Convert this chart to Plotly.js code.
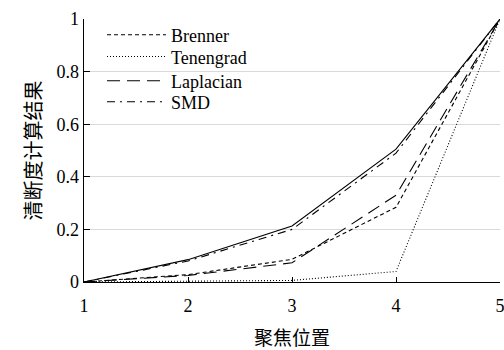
<!DOCTYPE html>
<html>
<head>
<meta charset="utf-8">
<script src="https://cdn.plot.ly/plotly-3.0.1.min.js"></script>
<style>html,body{margin:0;padding:0;background:#fff;}#chart{width:504px;height:350px;}</style>
</head>
<body>
<div id="chart"></div>
<script>
// Data
const positions = [1, 2, 3, 4, 5];
const unlabeled = [0, 0.085, 0.213, 0.505, 1];
const brenner   = [0, 0.028, 0.086, 0.284, 1];
const tenengrad = [0, 0.002, 0.006, 0.040, 1];
const laplacian = [0, 0.025, 0.073, 0.330, 1];
const smd       = [0, 0.080, 0.200, 0.490, 1];
const seriesNames = ['Brenner', 'Tenengrad', 'Laplacian', 'SMD'];
const xTitle = '聚焦位置';
const yTitle = '清断度计算结果';

const fontFamily = 'Liberation Serif, Times New Roman, serif';
const cjkFamily = 'Noto Sans CJK SC, sans-serif';

const traces = [
  {x: positions, y: unlabeled, mode: 'lines', showlegend: false, hoverinfo: 'skip',
   line: {color: '#000', width: 1.1, dash: 'solid'}},
  {x: positions, y: brenner, name: seriesNames[0], mode: 'lines', legend: 'legend',
   line: {color: '#000', width: 1.1, dash: '4px,3px'}},
  {x: positions, y: tenengrad, name: seriesNames[1], mode: 'lines', legend: 'legend2',
   line: {color: '#000', width: 1.1, dash: '1px,2px'}},
  {x: positions, y: laplacian, name: seriesNames[2], mode: 'lines', legend: 'legend3',
   line: {color: '#000', width: 1.1, dash: '13px,7px'}},
  {x: positions, y: smd, name: seriesNames[3], mode: 'lines', legend: 'legend4',
   line: {color: '#000', width: 1.1, dash: '8px,5px,2px,5px'}}
];

function legendAt(yc) {
  return {x: 0.0433, y: yc, xanchor: 'left', yanchor: 'middle',
          bgcolor: 'rgba(0,0,0,0)', itemwidth: 59,
          font: {family: fontFamily, size: 18, color: '#000'}};
}

const layout = {
  width: 504, height: 350,
  margin: {l: 84, r: 4, t: 19, b: 68},
  paper_bgcolor: '#fff', plot_bgcolor: '#fff',
  font: {family: fontFamily, size: 18, color: '#000'},
  showlegend: true,
  legend: legendAt(0.939),
  legend2: legendAt(0.856),
  legend3: legendAt(0.764),
  legend4: legendAt(0.684),
  xaxis: {range: [1, 5], tickvals: positions, ticks: 'inside', ticklen: 5,
          tickcolor: '#000', showline: true, linecolor: '#000', linewidth: 1.3,
          showgrid: false, zeroline: false, mirror: false,
          ticklabeloverflow: 'allow', ticklabelstandoff: 7,
          tickfont: {family: fontFamily, size: 18, color: '#000'},
          title: {text: xTitle, font: {family: cjkFamily, size: 19, color: '#000'}, standoff: 16}},
  yaxis: {range: [0, 1], dtick: 0.2, ticks: 'inside', ticklen: 6,
          tickcolor: '#000', showline: true, linecolor: '#000', linewidth: 1.3,
          showgrid: true, gridcolor: '#d9d9d9', gridwidth: 1, zeroline: false,
          tickfont: {family: fontFamily, size: 18, color: '#000'},
          title: {text: yTitle, font: {family: cjkFamily, size: 20, color: '#000'}, standoff: 9}}
};

Plotly.newPlot('chart', traces, layout, {displayModeBar: false, staticPlot: true});
</script>
</body>
</html>
